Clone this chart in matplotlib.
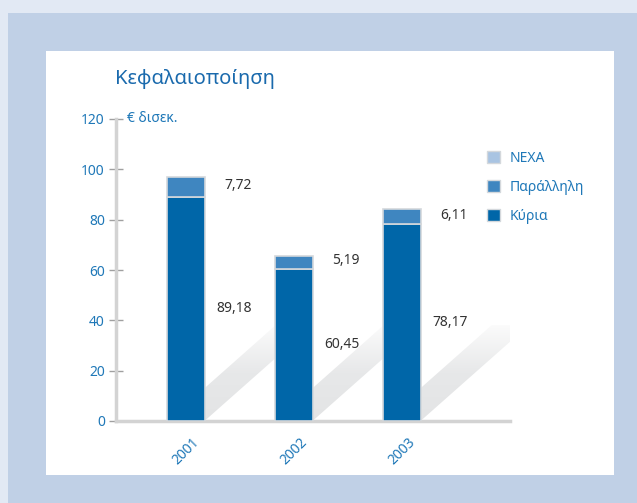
import matplotlib
matplotlib.use("Agg")
import matplotlib.pyplot as plt
import numpy as np
from matplotlib.patches import Rectangle, Polygon, Patch
from matplotlib.colors import LinearSegmentedColormap

plt.rcParams["font.family"] = ["Noto Sans", "DejaVu Sans"]

# data
years = ["2001", "2002", "2003"]
kyria = [89.18, 60.45, 78.17]
parallili = [7.72, 5.19, 6.11]
nexa = [0.0, 0.0, 0.0]
kyria_labels = ["89,18", "60,45", "78,17"]
parallili_labels = ["7,72", "5,19", "6,11"]
yticks = [0, 20, 40, 60, 80, 100, 120]

C_KYRIA = "#0066a8"
C_PAR = "#3f86c0"
C_NEXA = "#a9c4e2"
C_BLUE_TXT = "#1f78b8"
C_EDGE = "#d4d8dc"

W, H = 637, 503
fig = plt.figure(figsize=(W / 100, H / 100), dpi=100, facecolor="#c0d0e6")


def fx(x):
    return x / W


def fy(y):
    return 1 - y / H


# background bands and white panel
fig.patches.append(Rectangle((0, fy(13)), 1, 13 / H, transform=fig.transFigure,
                             facecolor="#e2e9f4", edgecolor="none", zorder=-2))
fig.patches.append(Rectangle((0, 0), fx(8), 1, transform=fig.transFigure,
                             facecolor="#e2e9f4", edgecolor="none", zorder=-2))
fig.patches.append(Rectangle((fx(46), fy(475)), fx(614) - fx(46), fy(51) - fy(475),
                             transform=fig.transFigure, facecolor="white",
                             edgecolor="none", zorder=-1))

ax = fig.add_axes([fx(116), fy(421), fx(510) - fx(116), fy(119) - fy(421)])
ax.set_facecolor("none")

x = np.arange(len(years))
bw = 0.343
shadow_h = 38

# diagonal shadows behind bars
grad = np.linspace(0, 1, 256).reshape(-1, 1)
cmap = LinearSegmentedColormap.from_list("sh", ["#e3e4e5", "#e7e8e9", "#fbfbfb"])
for xi in x:
    poly = Polygon([(xi - bw / 2, 0), (xi + bw / 2, 0),
                    (xi + bw / 2 + 1.0, shadow_h), (xi - bw / 2 + 1.0, shadow_h)],
                   closed=True, facecolor="none", edgecolor="none", transform=ax.transData)
    ax.add_patch(poly)
    im = ax.imshow(grad, cmap=cmap, origin="lower", aspect="auto",
                   extent=(xi - bw / 2, xi + bw / 2 + 1.0, 0, shadow_h), zorder=1)
    im.set_clip_path(poly)

bottom2 = [a + b for a, b in zip(kyria, parallili)]
ax.bar(x, kyria, width=bw, color=C_KYRIA, edgecolor=C_EDGE, linewidth=1.2, zorder=3)
ax.bar(x, parallili, width=bw, bottom=kyria, color=C_PAR, edgecolor=C_EDGE, linewidth=1.2, zorder=3)
ax.bar(x, nexa, width=bw, bottom=bottom2, color=C_NEXA, edgecolor=C_EDGE, linewidth=0, zorder=3)

for xi, k, p, kl, pl in zip(x, kyria, parallili, kyria_labels, parallili_labels):
    ax.text(xi + bw / 2 + 0.11, k / 2, kl, ha="left", va="center",
            fontsize=10, color="#333333", zorder=5)
    ax.text(xi + bw / 2 + 0.18, k + p / 2 + 0.6, pl, ha="left", va="center",
            fontsize=10, color="#333333", zorder=5)

ax.set_xlim(-0.648, 3.0)
ax.set_ylim(0, 120)
ax.set_yticks(yticks)
ax.set_xticks(x)
ax.set_xticklabels(years, rotation=45, ha="center", va="top", color=C_BLUE_TXT, fontsize=10)
ax.tick_params(axis="x", length=0, pad=10)
ax.tick_params(axis="y", direction="inout", length=10, width=1, color="#a0a0a0",
               labelcolor=C_BLUE_TXT, labelsize=10, pad=3)

for s in ["top", "right"]:
    ax.spines[s].set_visible(False)
for s in ["left", "bottom"]:
    ax.spines[s].set_color("#d3d3d3")
    ax.spines[s].set_linewidth(2.5)
    ax.spines[s].set_zorder(2)

ax.text(0.028, 120, "€ δισεκ.", transform=ax.get_yaxis_transform(), ha="left",
        va="center", color=C_BLUE_TXT, fontsize=10)

fig.text(fx(115), fy(79), "Κεφαλαιοποίηση", ha="left", va="center",
         color="#1a6aad", fontsize=14.5)

handles = [Patch(facecolor=C_NEXA, edgecolor=C_EDGE, label="NEXA"),
           Patch(facecolor=C_PAR, edgecolor=C_EDGE, label="Παράλληλη"),
           Patch(facecolor=C_KYRIA, edgecolor=C_EDGE, label="Κύρια")]
leg = fig.legend(handles=handles, loc="upper left", bbox_to_anchor=(fx(474), fy(138)),
                 frameon=False, handlelength=0.95, handleheight=0.95,
                 labelspacing=1.02, handletextpad=0.75, fontsize=10)
for t in leg.get_texts():
    t.set_color(C_BLUE_TXT)

fig.savefig("out.png", dpi=100, facecolor=fig.get_facecolor())
